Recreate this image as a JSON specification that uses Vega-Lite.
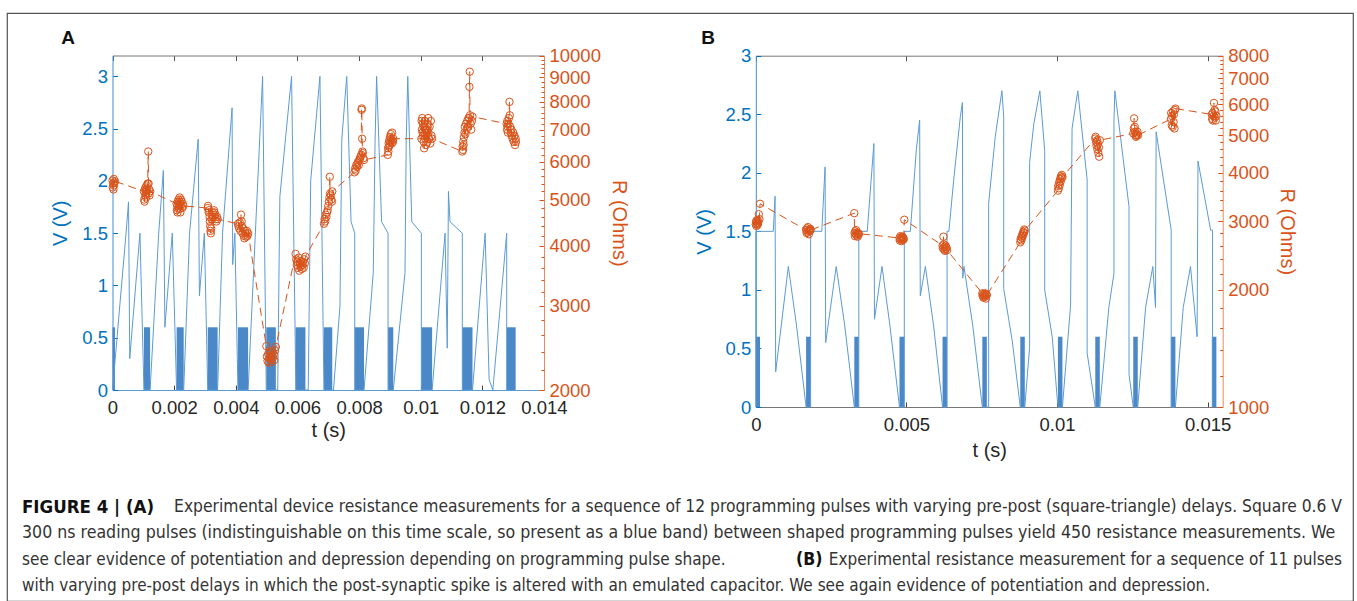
{
"$schema": "https://vega.github.io/schema/vega-lite/v6.json",
"width": 1346, "height": 588,
"autosize": {"type": "none"},
"padding": {"left": 7, "top": 13, "right": 4, "bottom": 0},
"background": "white",
"config": {
  "view": {"stroke": "#555555", "strokeWidth": 1.2},
  "font": "Liberation Sans",
  "axis": {"grid": false, "labelFont": "Liberation Sans", "titleFont": "Liberation Sans", "labelFontSize": 18.5, "titleFontSize": 20, "titleFontWeight": "normal", "domainWidth": 1, "tickWidth": 1, "labelFlush": false, "labelOverlap": false, "format": "~g"}
},
"datasets": {
  "barsA": [{"t0":0,"t1":0.00008},{"t0":0.00102,"t1":0.00122},{"t0":0.00208,"t1":0.00231},{"t0":0.00309,"t1":0.00341},{"t0":0.00407,"t1":0.00440},{"t0":0.00499,"t1":0.00530},{"t0":0.00594,"t1":0.00626},{"t0":0.00686,"t1":0.00713},{"t0":0.00786,"t1":0.00816},{"t0":0.00894,"t1":0.00911},{"t0":0.01002,"t1":0.01037},{"t0":0.01135,"t1":0.01168},{"t0":0.01279,"t1":0.01308}],
  "lineA": [{"t":0,"v":0},{"t":0.00044,"v":1.5},{"t":0.00052,"v":1.8},{"t":0.00056,"v":0.3},{"t":0.00089,"v":1.5},{"t":0.00102,"v":0},
    {"t":0.00122,"v":0},{"t":0.00150,"v":1.5},{"t":0.00165,"v":2.1},{"t":0.00170,"v":0.6},{"t":0.00194,"v":1.5},{"t":0.00208,"v":0},
    {"t":0.00231,"v":0},{"t":0.00250,"v":1.5},{"t":0.00278,"v":2.4},{"t":0.00282,"v":0.9},{"t":0.00298,"v":1.5},{"t":0.00309,"v":0},
    {"t":0.00341,"v":0},{"t":0.00357,"v":1.5},{"t":0.00388,"v":2.7},{"t":0.00390,"v":1.2},{"t":0.00397,"v":1.5},{"t":0.00407,"v":0},
    {"t":0.00440,"v":0},{"t":0.00487,"v":3.0},{"t":0.00499,"v":0},
    {"t":0.00530,"v":0},{"t":0.00536,"v":0},{"t":0.00543,"v":1.85},{"t":0.00581,"v":3.0},{"t":0.00595,"v":0},
    {"t":0.00626,"v":0},{"t":0.00635,"v":0},{"t":0.00643,"v":2.0},{"t":0.00673,"v":3.0},{"t":0.00686,"v":0},
    {"t":0.00713,"v":0},{"t":0.00717,"v":0},{"t":0.00738,"v":0.8},{"t":0.00744,"v":2.4},{"t":0.00760,"v":3.0},{"t":0.00774,"v":1.61},{"t":0.00786,"v":1.5},{"t":0.00786,"v":0},
    {"t":0.00816,"v":0},{"t":0.00846,"v":1.12},{"t":0.00852,"v":2.4},{"t":0.00857,"v":3.0},{"t":0.00873,"v":1.61},{"t":0.00894,"v":1.5},{"t":0.00894,"v":0},
    {"t":0.00911,"v":0},{"t":0.00949,"v":1.12},{"t":0.00953,"v":2.4},{"t":0.00958,"v":3.0},{"t":0.00971,"v":1.61},{"t":0.01002,"v":1.5},{"t":0.01002,"v":0},
    {"t":0.01037,"v":0},{"t":0.01079,"v":1.5},{"t":0.01086,"v":0.4},{"t":0.01090,"v":1.9},{"t":0.01095,"v":1.61},{"t":0.01135,"v":1.5},{"t":0.01135,"v":0},
    {"t":0.01168,"v":0},{"t":0.01209,"v":1.5},{"t":0.01222,"v":0.1},{"t":0.01234,"v":0},{"t":0.01279,"v":1.5},{"t":0.01279,"v":0}],
  "resA": [{"t":0.00000,"r":5480},{"t":0.00001,"r":5300},{"t":0.00002,"r":5400},{"t":0.00003,"r":5250},{"t":0.00004,"r":5520},{"t":0.00005,"r":5350},{"t":0.00006,"r":5420},{"t":0.00008,"r":5460},
    {"t":0.00102,"r":5200},{"t":0.00103,"r":5000},{"t":0.00104,"r":4950},{"t":0.00105,"r":5250},{"t":0.00106,"r":5100},{"t":0.00107,"r":5300},{"t":0.00108,"r":5150},{"t":0.00109,"r":5050},{"t":0.00110,"r":5200},{"t":0.00111,"r":5350},{"t":0.00112,"r":5250},{"t":0.00114,"r":5400},{"t":0.00116,"r":6300},{"t":0.00117,"r":5400},{"t":0.00118,"r":5150},{"t":0.00119,"r":5250},{"t":0.00120,"r":5100},{"t":0.00122,"r":5200},
    {"t":0.00208,"r":4900},{"t":0.00209,"r":4750},{"t":0.00210,"r":4850},{"t":0.00211,"r":4700},{"t":0.00212,"r":4950},{"t":0.00213,"r":4800},{"t":0.00214,"r":5000},{"t":0.00215,"r":4880},{"t":0.00216,"r":4780},{"t":0.00217,"r":4950},{"t":0.00218,"r":5050},{"t":0.00219,"r":4900},{"t":0.00220,"r":4700},{"t":0.00221,"r":4850},{"t":0.00222,"r":5000},{"t":0.00224,"r":4950},{"t":0.00226,"r":4800},{"t":0.00228,"r":4900},{"t":0.00230,"r":4850},
    {"t":0.00309,"r":4800},{"t":0.00310,"r":4850},{"t":0.00312,"r":4700},{"t":0.00313,"r":4750},{"t":0.00315,"r":4600},{"t":0.00316,"r":4500},{"t":0.00317,"r":4400},{"t":0.00318,"r":4300},{"t":0.00319,"r":4250},{"t":0.00320,"r":4350},{"t":0.00322,"r":4550},{"t":0.00323,"r":4650},{"t":0.00325,"r":4700},{"t":0.00327,"r":4600},{"t":0.00329,"r":4750},{"t":0.00331,"r":4700},{"t":0.00333,"r":4650},{"t":0.00335,"r":4550},{"t":0.00337,"r":4500},{"t":0.00339,"r":4600},{"t":0.00341,"r":4550},
    {"t":0.00407,"r":4450},{"t":0.00409,"r":4400},{"t":0.00411,"r":4350},{"t":0.00413,"r":4480},{"t":0.00415,"r":4300},{"t":0.00417,"r":4650},{"t":0.00419,"r":4500},{"t":0.00420,"r":4400},{"t":0.00422,"r":4250},{"t":0.00424,"r":4350},{"t":0.00426,"r":4200},{"t":0.00428,"r":4150},{"t":0.00430,"r":4300},{"t":0.00432,"r":4250},{"t":0.00434,"r":4180},{"t":0.00436,"r":4300},{"t":0.00438,"r":4200},{"t":0.00440,"r":4250},
    {"t":0.00499,"r":2470},{"t":0.00501,"r":2350},{"t":0.00503,"r":2300},{"t":0.00505,"r":2380},{"t":0.00507,"r":2280},{"t":0.00509,"r":2330},{"t":0.00511,"r":2400},{"t":0.00513,"r":2320},{"t":0.00515,"r":2360},{"t":0.00517,"r":2290},{"t":0.00519,"r":2410},{"t":0.00521,"r":2340},{"t":0.00523,"r":2370},{"t":0.00525,"r":2310},{"t":0.00527,"r":2420},{"t":0.00530,"r":2460},
    {"t":0.00594,"r":3850},{"t":0.00596,"r":3750},{"t":0.00598,"r":3650},{"t":0.00600,"r":3700},{"t":0.00602,"r":3600},{"t":0.00604,"r":3780},{"t":0.00606,"r":3550},{"t":0.00608,"r":3680},{"t":0.00610,"r":3620},{"t":0.00612,"r":3720},{"t":0.00614,"r":3580},{"t":0.00616,"r":3650},{"t":0.00618,"r":3700},{"t":0.00620,"r":3600},{"t":0.00622,"r":3750},{"t":0.00624,"r":3680},{"t":0.00626,"r":3800},
    {"t":0.00686,"r":4450},{"t":0.00688,"r":4550},{"t":0.00690,"r":4500},{"t":0.00692,"r":4650},{"t":0.00694,"r":4600},{"t":0.00696,"r":4700},{"t":0.00698,"r":4750},{"t":0.00700,"r":4850},{"t":0.00702,"r":4950},{"t":0.00704,"r":5050},{"t":0.00705,"r":5580},{"t":0.00706,"r":5150},{"t":0.00708,"r":5100},{"t":0.00710,"r":5000},{"t":0.00712,"r":4950},{"t":0.00713,"r":5200},
    {"t":0.00785,"r":5700},{"t":0.00787,"r":5800},{"t":0.00789,"r":5750},{"t":0.00791,"r":5900},{"t":0.00793,"r":5850},{"t":0.00795,"r":5950},{"t":0.00797,"r":6000},{"t":0.00799,"r":5900},{"t":0.00801,"r":6050},{"t":0.00803,"r":6100},{"t":0.00805,"r":6150},{"t":0.00807,"r":6200},{"t":0.00808,"r":7700},{"t":0.00809,"r":7750},{"t":0.00810,"r":6700},{"t":0.00811,"r":6300},{"t":0.00812,"r":6250},{"t":0.00814,"r":6100},{"t":0.00816,"r":6050},
    {"t":0.00893,"r":6200},{"t":0.00894,"r":6400},{"t":0.00895,"r":6300},{"t":0.00896,"r":6550},{"t":0.00897,"r":6450},{"t":0.00898,"r":6650},{"t":0.00899,"r":6500},{"t":0.00900,"r":6750},{"t":0.00902,"r":6600},{"t":0.00903,"r":6850},{"t":0.00904,"r":6700},{"t":0.00906,"r":6550},{"t":0.00907,"r":6900},{"t":0.00908,"r":6650},{"t":0.00910,"r":6600},{"t":0.00911,"r":6700},
    {"t":0.01002,"r":6700},{"t":0.01003,"r":7300},{"t":0.01004,"r":7000},{"t":0.01005,"r":7400},{"t":0.01006,"r":6900},{"t":0.01007,"r":7200},{"t":0.01008,"r":6800},{"t":0.01009,"r":7100},{"t":0.01010,"r":6600},{"t":0.01011,"r":6400},{"t":0.01012,"r":6900},{"t":0.01013,"r":7300},{"t":0.01015,"r":6700},{"t":0.01016,"r":7000},{"t":0.01017,"r":6500},{"t":0.01019,"r":6800},{"t":0.01021,"r":7200},{"t":0.01022,"r":6600},{"t":0.01024,"r":7400},{"t":0.01025,"r":6900},{"t":0.01027,"r":6700},{"t":0.01029,"r":7100},{"t":0.01031,"r":6550},{"t":0.01033,"r":7300},{"t":0.01035,"r":6800},{"t":0.01037,"r":6700},
    {"t":0.01135,"r":6300},{"t":0.01136,"r":6450},{"t":0.01137,"r":6350},{"t":0.01138,"r":6600},{"t":0.01139,"r":6500},{"t":0.01140,"r":6750},{"t":0.01142,"r":6900},{"t":0.01143,"r":7100},{"t":0.01145,"r":6850},{"t":0.01147,"r":7200},{"t":0.01149,"r":7000},{"t":0.01151,"r":7300},{"t":0.01153,"r":7100},{"t":0.01155,"r":7400},{"t":0.01157,"r":7400},{"t":0.01158,"r":8600},{"t":0.01159,"r":9250},{"t":0.01160,"r":7500},{"t":0.01162,"r":7200},{"t":0.01164,"r":7000},{"t":0.01166,"r":7300},{"t":0.01168,"r":7450},
    {"t":0.01279,"r":7200},{"t":0.01280,"r":7000},{"t":0.01281,"r":7300},{"t":0.01282,"r":7100},{"t":0.01283,"r":6900},{"t":0.01285,"r":7200},{"t":0.01286,"r":7400},{"t":0.01288,"r":8000},{"t":0.01289,"r":7500},{"t":0.01290,"r":7100},{"t":0.01292,"r":6900},{"t":0.01294,"r":7000},{"t":0.01296,"r":6800},{"t":0.01298,"r":6700},{"t":0.01300,"r":6900},{"t":0.01302,"r":6600},{"t":0.01304,"r":6800},{"t":0.01306,"r":6500},{"t":0.01308,"r":6700},{"t":0.01309,"r":6600}],
  "barsB": [{"t0":0,"t1":0.00014},{"t0":0.00167,"t1":0.00182},{"t0":0.00327,"t1":0.00342},{"t0":0.00477,"t1":0.00493},{"t0":0.00620,"t1":0.00635},{"t0":0.00752,"t1":0.00767},{"t0":0.00878,"t1":0.00893},{"t0":0.01003,"t1":0.01018},{"t0":0.01127,"t1":0.01142},{"t0":0.01253,"t1":0.01268},{"t0":0.01378,"t1":0.01393},{"t0":0.01514,"t1":0.01529}],
  "lineB": [{"t":0,"v":0},{"t":0,"v":1.5},{"t":0.00058,"v":1.5},{"t":0.00064,"v":1.8},{"t":0.00066,"v":0.3},{"t":0.00108,"v":1.2},{"t":0.00135,"v":0.7},{"t":0.00167,"v":0},
    {"t":0.00182,"v":0},{"t":0.00182,"v":1.5},{"t":0.00219,"v":1.5},{"t":0.00230,"v":2.05},{"t":0.00232,"v":0.55},{"t":0.00267,"v":1.2},{"t":0.00295,"v":0.7},{"t":0.00327,"v":0},
    {"t":0.00342,"v":0},{"t":0.00342,"v":1.5},{"t":0.00370,"v":1.5},{"t":0.00392,"v":2.25},{"t":0.00394,"v":0.75},{"t":0.00419,"v":1.2},{"t":0.00445,"v":0.7},{"t":0.00477,"v":0},
    {"t":0.00493,"v":0},{"t":0.00493,"v":1.5},{"t":0.00513,"v":1.5},{"t":0.00533,"v":2.2},{"t":0.00544,"v":2.45},{"t":0.00546,"v":0.95},{"t":0.00563,"v":1.2},{"t":0.00590,"v":0.7},{"t":0.00620,"v":0},
    {"t":0.00635,"v":0},{"t":0.00635,"v":1.5},{"t":0.00641,"v":1.5},{"t":0.00657,"v":1.94},{"t":0.00679,"v":2.48},{"t":0.00686,"v":2.6},{"t":0.00687,"v":1.1},{"t":0.00691,"v":1.2},{"t":0.00720,"v":0.7},{"t":0.00752,"v":0},
    {"t":0.00767,"v":0},{"t":0.00773,"v":0},{"t":0.00773,"v":1.74},{"t":0.00795,"v":2.31},{"t":0.00817,"v":2.7},{"t":0.00823,"v":2.48},{"t":0.00823,"v":1.01},{"t":0.00851,"v":0.57},{"t":0.00878,"v":0},
    {"t":0.00893,"v":0},{"t":0.00909,"v":0.51},{"t":0.00909,"v":2.09},{"t":0.00923,"v":2.42},{"t":0.00943,"v":2.7},{"t":0.00959,"v":2.19},{"t":0.00959,"v":1.0},{"t":0.00984,"v":0.6},{"t":0.01003,"v":0},
    {"t":0.01018,"v":0},{"t":0.01045,"v":0.87},{"t":0.01050,"v":2.38},{"t":0.01069,"v":2.7},{"t":0.01100,"v":1.94},{"t":0.01100,"v":0.46},{"t":0.01127,"v":0},
    {"t":0.01142,"v":0},{"t":0.01172,"v":0.85},{"t":0.01189,"v":1.14},{"t":0.01189,"v":2.45},{"t":0.01192,"v":2.7},{"t":0.01239,"v":1.71},{"t":0.01239,"v":0.28},{"t":0.01253,"v":0},
    {"t":0.01268,"v":0},{"t":0.01294,"v":0.85},{"t":0.01318,"v":1.2},{"t":0.01327,"v":0.85},{"t":0.01329,"v":2.35},{"t":0.01379,"v":1.51},{"t":0.01379,"v":0},
    {"t":0.01393,"v":0},{"t":0.01419,"v":0.85},{"t":0.01443,"v":1.2},{"t":0.01465,"v":0.6},{"t":0.01468,"v":2.1},{"t":0.01510,"v":1.51},{"t":0.01516,"v":1.51},{"t":0.01516,"v":0}],
  "resB": [{"t":0.00000,"r":2950},{"t":0.00001,"r":3000},{"t":0.00002,"r":2920},{"t":0.00003,"r":3020},{"t":0.00004,"r":2960},{"t":0.00005,"r":2980},{"t":0.00006,"r":2940},{"t":0.00007,"r":3010},{"t":0.00008,"r":2970},{"t":0.00010,"r":3130},{"t":0.00012,"r":3040},{"t":0.00014,"r":3330},
    {"t":0.00167,"r":2850},{"t":0.00169,"r":2800},{"t":0.00170,"r":2880},{"t":0.00172,"r":2820},{"t":0.00173,"r":2900},{"t":0.00175,"r":2840},{"t":0.00176,"r":2780},{"t":0.00178,"r":2860},{"t":0.00179,"r":2830},{"t":0.00181,"r":2870},{"t":0.00182,"r":2850},
    {"t":0.00327,"r":3150},{"t":0.00328,"r":2800},{"t":0.00329,"r":2750},{"t":0.00330,"r":2830},{"t":0.00332,"r":2780},{"t":0.00333,"r":2850},{"t":0.00335,"r":2760},{"t":0.00336,"r":2810},{"t":0.00338,"r":2740},{"t":0.00339,"r":2800},{"t":0.00341,"r":2770},{"t":0.00342,"r":2790},
    {"t":0.00477,"r":2720},{"t":0.00478,"r":2680},{"t":0.00480,"r":2750},{"t":0.00481,"r":2700},{"t":0.00483,"r":2730},{"t":0.00484,"r":2670},{"t":0.00486,"r":2710},{"t":0.00487,"r":2740},{"t":0.00489,"r":2690},{"t":0.00490,"r":2720},{"t":0.00491,"r":2700},{"t":0.00493,"r":3030},
    {"t":0.00620,"r":2600},{"t":0.00621,"r":2560},{"t":0.00623,"r":2740},{"t":0.00624,"r":2620},{"t":0.00625,"r":2540},{"t":0.00627,"r":2580},{"t":0.00628,"r":2520},{"t":0.00630,"r":2600},{"t":0.00631,"r":2550},{"t":0.00633,"r":2570},{"t":0.00635,"r":2530},
    {"t":0.00752,"r":1960},{"t":0.00753,"r":1930},{"t":0.00755,"r":1950},{"t":0.00756,"r":1910},{"t":0.00758,"r":1940},{"t":0.00759,"r":1920},{"t":0.00761,"r":1960},{"t":0.00762,"r":1930},{"t":0.00764,"r":1900},{"t":0.00765,"r":1950},{"t":0.00767,"r":1940},
    {"t":0.00878,"r":2650},{"t":0.00879,"r":2700},{"t":0.00881,"r":2680},{"t":0.00882,"r":2740},{"t":0.00884,"r":2720},{"t":0.00885,"r":2780},{"t":0.00887,"r":2760},{"t":0.00888,"r":2820},{"t":0.00890,"r":2800},{"t":0.00891,"r":2860},{"t":0.00893,"r":2840},
    {"t":0.01003,"r":3600},{"t":0.01004,"r":3700},{"t":0.01006,"r":3650},{"t":0.01007,"r":3780},{"t":0.01009,"r":3720},{"t":0.01010,"r":3850},{"t":0.01012,"r":3800},{"t":0.01013,"r":3920},{"t":0.01015,"r":3880},{"t":0.01016,"r":3950},{"t":0.01018,"r":3900},
    {"t":0.01127,"r":4900},{"t":0.01128,"r":4950},{"t":0.01130,"r":4800},{"t":0.01131,"r":4700},{"t":0.01133,"r":4850},{"t":0.01134,"r":4600},{"t":0.01136,"r":4750},{"t":0.01137,"r":4500},{"t":0.01139,"r":4650},{"t":0.01140,"r":4400},{"t":0.01142,"r":4850},
    {"t":0.01253,"r":5050},{"t":0.01255,"r":5200},{"t":0.01256,"r":5520},{"t":0.01258,"r":5250},{"t":0.01259,"r":5100},{"t":0.01261,"r":5000},{"t":0.01262,"r":4950},{"t":0.01264,"r":5050},{"t":0.01265,"r":4980},{"t":0.01267,"r":5100},{"t":0.01269,"r":5000},
    {"t":0.01378,"r":5500},{"t":0.01379,"r":5700},{"t":0.01381,"r":5300},{"t":0.01382,"r":5600},{"t":0.01384,"r":5250},{"t":0.01385,"r":5750},{"t":0.01387,"r":5400},{"t":0.01388,"r":5650},{"t":0.01390,"r":5200},{"t":0.01391,"r":5800},{"t":0.01393,"r":5850},
    {"t":0.01514,"r":5650},{"t":0.01515,"r":5500},{"t":0.01517,"r":5700},{"t":0.01518,"r":5450},{"t":0.01520,"r":5600},{"t":0.01521,"r":6050},{"t":0.01523,"r":5800},{"t":0.01524,"r":5550},{"t":0.01526,"r":5750},{"t":0.01527,"r":5450},{"t":0.01529,"r":5600}],
  "caption": [
    {"line":1,"part":"bl","text":"FIGURE 4 | (A)"},
    {"line":1,"part":"r1","text":"Experimental device resistance measurements for a sequence of 12 programming pulses with varying pre-post (square-triangle) delays. Square 0.6 V"},
    {"line":2,"part":"wide","text":"300 ns reading pulses (indistinguishable on this time scale, so present as a blue band) between shaped programming pulses yield 450 resistance measurements. We"},
    {"line":3,"part":"rl","text":"see clear evidence of potentiation and depression depending on programming pulse shape."},
    {"line":3,"part":"bm","text":"(B)"},
    {"line":3,"part":"rr","text":"Experimental resistance measurement for a sequence of 11 pulses"},
    {"line":4,"part":"rl","text":"with varying pre-post delays in which the post-synaptic spike is altered with an emulated capacitor. We see again evidence of potentiation and depression."}
  ],
  "panels": [{"panel":"A"},{"panel":"B"}]
},
"layer": [
  {
    "layer": [
      {
        "layer": [
          {"data": {"name": "barsA"}, "mark": {"type": "rect", "color": "#4a88c8"},
           "encoding": {
             "x": {"field": "t0", "type": "quantitative", "scale": {"domain": [0, 0.014], "range": [105.5, 537], "nice": false, "zero": false},
                   "axis": {"orient": "bottom", "offset": -211, "values": [0,0.002,0.004,0.006,0.008,0.01,0.012,0.014], "title": "t (s)", "titleColor": "#262626", "labelColor": "#262626", "domainColor": "#5b9bd5", "tickColor": "#444444", "tickSize": -5, "labelPadding": 13, "titlePadding": 4}},
             "x2": {"field": "t1"},
             "y": {"datum": 0, "type": "quantitative", "scale": {"domain": [0, 3.2], "range": [377, 42.5], "nice": false, "zero": false},
                   "axis": {"orient": "left", "offset": -105.5, "values": [0,0.5,1,1.5,2,2.5,3], "title": "V (V)", "titleColor": "#0072BD", "labelColor": "#0072BD", "domainColor": "#3d8fd6", "tickColor": "#0072BD", "tickSize": -5, "labelPadding": 10, "titlePadding": 11}},
             "y2": {"datum": 0.6}
           }},
          {"data": {"name": "lineA"}, "mark": {"type": "line", "color": "#5b9bd5", "strokeWidth": 1},
           "encoding": {"x": {"field": "t", "type": "quantitative"}, "y": {"field": "v", "type": "quantitative"}}}
        ]
      },
      {
        "layer": [
          {"data": {"name": "resA"}, "mark": {"type": "line", "color": "#D95319", "strokeWidth": 1, "strokeDash": [8, 5]},
           "encoding": {
             "x": {"field": "t", "type": "quantitative", "scale": {"domain": [0, 0.014], "range": [105.5, 537], "nice": false, "zero": false},
                   "axis": {"orient": "top", "offset": -42.5, "values": [0,0.002,0.004,0.006,0.008,0.01,0.012,0.014], "labels": false, "title": null, "domainColor": "#777777", "tickColor": "#555555", "tickSize": -5}},
             "y": {"field": "r", "type": "quantitative", "scale": {"type": "log", "domain": [2000, 10000], "range": [377, 42.5], "nice": false},
                   "axis": {"orient": "right", "offset": -809, "values": [2000,3000,4000,5000,6000,7000,8000,9000,10000], "format": "d", "title": "R (Ohms)", "titleColor": "#D95319", "labelColor": "#D95319", "domainColor": "#ec8a5f", "tickColor": "#D95319", "tickSize": -5, "labelPadding": 10, "titlePadding": 8}}
           }},
          {"data": {"name": "resA"}, "mark": {"type": "point", "shape": "circle", "filled": false, "color": "#D95319", "size": 55, "strokeWidth": 1, "opacity": 1},
           "encoding": {
             "x": {"field": "t", "type": "quantitative"},
             "y": {"field": "r", "type": "quantitative", "scale": {"type": "log", "domain": [2000, 10000], "range": [377, 42.5], "nice": false},
                   "axis": {"orient": "right", "offset": -809, "values": [2200,2400,2600,2800,3200,3400,3600,3800,4200,4400,4600,4800,5200,5400,5600,5800,6200,6400,6600,6800,7200,7400,7600,7800,8200,8400,8600,8800,9200,9400,9600,9800], "labels": false, "domain": false, "title": null, "tickColor": "#D95319", "tickSize": -3}}
           }}
        ],
        "resolve": {"scale": {"y": "independent"}, "axis": {"y": "independent"}}
      }
    ],
    "resolve": {"scale": {"x": "independent", "y": "independent"}, "axis": {"x": "independent", "y": "independent"}}
  },
  {
    "layer": [
      {
        "layer": [
          {"data": {"name": "barsB"}, "mark": {"type": "rect", "color": "#4a88c8"},
           "encoding": {
             "x": {"field": "t0", "type": "quantitative", "scale": {"domain": [0, 0.0155], "range": [748.8, 1215.7], "nice": false, "zero": false},
                   "axis": {"orient": "bottom", "offset": -194, "values": [0,0.005,0.01,0.015], "title": "t (s)", "titleColor": "#262626", "labelColor": "#262626", "domainColor": "#777777", "tickColor": "#444444", "tickSize": -5, "labelPadding": 13, "titlePadding": 7}},
             "x2": {"field": "t1"},
             "y": {"datum": 0, "type": "quantitative", "scale": {"domain": [0, 3], "range": [394, 42.7], "nice": false, "zero": false},
                   "axis": {"orient": "left", "offset": -748.8, "values": [0,0.5,1,1.5,2,2.5,3], "title": "V (V)", "titleColor": "#0072BD", "labelColor": "#0072BD", "domainColor": "#3d8fd6", "tickColor": "#0072BD", "tickSize": -5, "labelPadding": 10, "titlePadding": 11}},
             "y2": {"datum": 0.6}
           }},
          {"data": {"name": "lineB"}, "mark": {"type": "line", "color": "#5b9bd5", "strokeWidth": 1},
           "encoding": {"x": {"field": "t", "type": "quantitative"}, "y": {"field": "v", "type": "quantitative"}}}
        ]
      },
      {
        "layer": [
          {"data": {"name": "resB"}, "mark": {"type": "line", "color": "#D95319", "strokeWidth": 1, "strokeDash": [8, 5]},
           "encoding": {
             "x": {"field": "t", "type": "quantitative", "scale": {"domain": [0, 0.0155], "range": [748.8, 1215.7], "nice": false, "zero": false},
                   "axis": {"orient": "top", "offset": -42.7, "values": [0,0.005,0.01,0.015], "labels": false, "title": null, "domainColor": "#777777", "tickColor": "#555555", "tickSize": -5}},
             "y": {"field": "r", "type": "quantitative", "scale": {"type": "log", "domain": [1000, 8000], "range": [394, 42.7], "nice": false},
                   "axis": {"orient": "right", "offset": -130.3, "values": [1000,2000,3000,4000,5000,6000,7000,8000], "format": "d", "title": "R (Ohms)", "titleColor": "#D95319", "labelColor": "#D95319", "domainColor": "#ec8a5f", "tickColor": "#D95319", "tickSize": -5, "labelPadding": 10, "titlePadding": 8}}
           }},
          {"data": {"name": "resB"}, "mark": {"type": "point", "shape": "circle", "filled": false, "color": "#D95319", "size": 55, "strokeWidth": 1, "opacity": 1},
           "encoding": {
             "x": {"field": "t", "type": "quantitative"},
             "y": {"field": "r", "type": "quantitative", "scale": {"type": "log", "domain": [1000, 8000], "range": [394, 42.7], "nice": false},
                   "axis": {"orient": "right", "offset": -130.3, "values": [1200,1400,1600,1800,2200,2400,2600,2800,3200,3400,3600,3800,4200,4400,4600,4800,5200,5400,5600,5800,6200,6400,6600,6800,7200,7400,7600,7800], "labels": false, "domain": false, "title": null, "tickColor": "#D95319", "tickSize": -3}}
           }}
        ],
        "resolve": {"scale": {"y": "independent"}, "axis": {"y": "independent"}}
      }
    ],
    "resolve": {"scale": {"x": "independent", "y": "independent"}, "axis": {"x": "independent", "y": "independent"}}
  },
  {
    "data": {"name": "caption"},
    "layer": [
      {"transform": [{"filter": "datum.part == 'bl'"}],
       "mark": {"type": "text", "align": "left", "baseline": "middle", "font": "DejaVu Sans Condensed, Liberation Sans, sans-serif", "fontSize": 18.5, "fontWeight": "bold", "color": "#111111"},
       "encoding": {"x": {"value": 15}, "y": {"field": "line", "type": "quantitative", "scale": {"domain": [1, 4], "range": [494, 573]}, "axis": null}, "text": {"field": "text"}}},
      {"transform": [{"filter": "datum.part == 'r1'"}],
       "mark": {"type": "text", "align": "right", "baseline": "middle", "font": "DejaVu Sans Condensed, Liberation Sans, sans-serif", "fontSize": 17.3, "color": "#333333"},
       "encoding": {"x": {"value": 1335}, "y": {"field": "line", "type": "quantitative"}, "text": {"field": "text"}}},
      {"transform": [{"filter": "datum.part == 'rl'"}],
       "mark": {"type": "text", "align": "left", "baseline": "middle", "font": "DejaVu Sans Condensed, Liberation Sans, sans-serif", "fontSize": 17, "color": "#333333"},
       "encoding": {"x": {"value": 15}, "y": {"field": "line", "type": "quantitative"}, "text": {"field": "text"}}},
      {"transform": [{"filter": "datum.part == 'wide'"}],
       "mark": {"type": "text", "align": "left", "baseline": "middle", "font": "DejaVu Sans Condensed, Liberation Sans, sans-serif", "fontSize": 17.6, "color": "#333333"},
       "encoding": {"x": {"value": 15}, "y": {"field": "line", "type": "quantitative"}, "text": {"field": "text"}}},
      {"transform": [{"filter": "datum.part == 'rr'"}],
       "mark": {"type": "text", "align": "right", "baseline": "middle", "font": "DejaVu Sans Condensed, Liberation Sans, sans-serif", "fontSize": 17, "color": "#333333"},
       "encoding": {"x": {"value": 1335}, "y": {"field": "line", "type": "quantitative"}, "text": {"field": "text"}}},
      {"transform": [{"filter": "datum.part == 'bm'"}],
       "mark": {"type": "text", "align": "left", "baseline": "middle", "font": "DejaVu Sans Condensed, Liberation Sans, sans-serif", "fontSize": 17.5, "fontWeight": "bold", "color": "#111111"},
       "encoding": {"x": {"value": 789}, "y": {"field": "line", "type": "quantitative"}, "text": {"field": "text"}}}
    ]
  },
  {
    "data": {"name": "panels"},
    "mark": {"type": "text", "align": "center", "baseline": "middle", "font": "Liberation Sans", "fontSize": 19, "fontWeight": "bold", "color": "#111111"},
    "encoding": {
      "x": {"field": "panel", "type": "nominal", "scale": {"type": "point", "domain": ["A", "B"], "range": [61, 701], "padding": 0}, "axis": null},
      "y": {"value": 25},
      "text": {"field": "panel"}
    }
  }
],
"resolve": {"scale": {"x": "independent", "y": "independent"}, "axis": {"x": "independent", "y": "independent"}}
}
